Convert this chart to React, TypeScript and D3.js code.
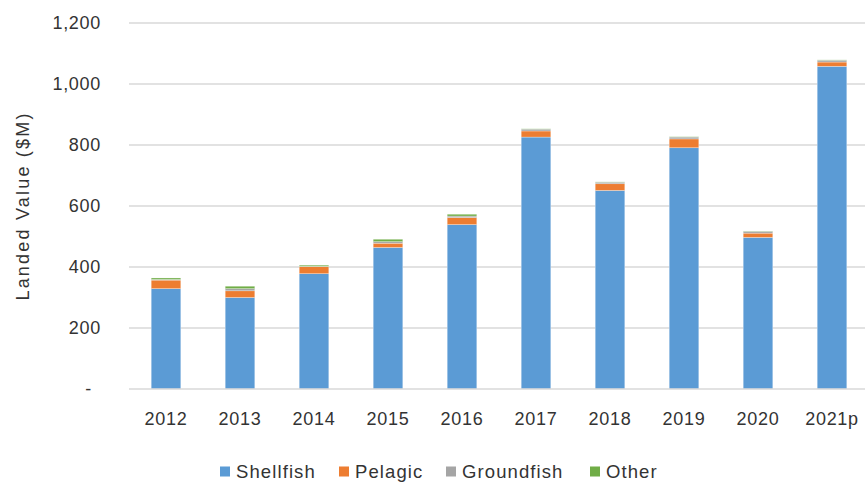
import React, { useEffect, useRef } from "react";
import * as d3 from "d3";

const years = ["2012", "2013", "2014", "2015", "2016", "2017", "2018", "2019", "2020", "2021p"];
const shellfish = [329, 300, 378, 464, 539, 826, 651, 791, 497, 1058];
const pelagic = [28, 22, 23, 14, 23, 20, 22, 29, 14, 14];
const groundfish = [2, 7, 1, 5, 5, 6, 5, 6, 6, 6];
const other = [5, 8, 4, 8, 6, 1, 1, 1, 1, 1];
const seriesNames = ["Shellfish", "Pelagic", "Groundfish", "Other"];
const seriesColors = ["#5B9BD5", "#ED7D31", "#A5A5A5", "#70AD47"];
const yTicks = [0, 200, 400, 600, 800, 1000, 1200];

const W = 865;
const H = 485;
const FONT = "'Liberation Sans', Arial, sans-serif";

export default function App() {
  const ref = useRef<SVGSVGElement>(null);

  useEffect(() => {
    const svg = d3.select(ref.current);
    svg.selectAll("*").remove();

    const left = 129, right = 869, top = 23, bottom = 389;
    const x = d3.scaleBand<string>().domain(years).range([left, right]).paddingInner(0.6).paddingOuter(0.3);
    const y = d3.scaleLinear().domain([0, 1200]).range([bottom, top]);

    const table = years.map((yr, i) => ({
      year: yr,
      Shellfish: shellfish[i],
      Pelagic: pelagic[i],
      Groundfish: groundfish[i],
      Other: other[i],
    }));
    const stack = d3.stack<any>().keys(seriesNames)(table);

    // gridlines
    svg.append("g")
      .selectAll("line")
      .data(yTicks.filter((t) => t > 0))
      .join("line")
      .attr("x1", left)
      .attr("x2", W)
      .attr("y1", (d) => y(d))
      .attr("y2", (d) => y(d))
      .attr("stroke", "#D9D9D9")
      .attr("stroke-width", 1.5);

    // bars
    svg.append("g")
      .selectAll("g")
      .data(stack)
      .join("g")
      .attr("fill", (_d, i) => seriesColors[i])
      .selectAll("rect")
      .data((d) => d)
      .join("rect")
      .attr("x", (d: any) => x(d.data.year)!)
      .attr("width", x.bandwidth())
      .attr("y", (d) => y(d[1]))
      .attr("height", (d) => Math.max(0, y(d[0]) - y(d[1])))
      .attr("stroke", "#ffffff")
      .attr("stroke-opacity", 0.5)
      .attr("stroke-width", 0.6);

    // baseline
    svg.append("line")
      .attr("x1", left)
      .attr("x2", W)
      .attr("y1", bottom)
      .attr("y2", bottom)
      .attr("stroke", "#D9D9D9")
      .attr("stroke-width", 1.5);

    const textColor = "#333333";

    // y tick labels
    svg.append("g")
      .selectAll("text")
      .data(yTicks)
      .join("text")
      .attr("x", (d) => (d === 0 ? 92 : 101))
      .attr("y", (d) => y(d))
      .attr("dy", "0.36em")
      .attr("text-anchor", "end")
      .attr("font-family", FONT)
      .attr("font-size", 18)
      .attr("letter-spacing", 0.7)
      .attr("fill", textColor)
      .text((d) => (d === 0 ? "-" : d3.format(",")(d)));

    // x labels
    svg.append("g")
      .selectAll("text")
      .data(years)
      .join("text")
      .attr("x", (d) => x(d)! + x.bandwidth() / 2)
      .attr("y", 425)
      .attr("text-anchor", "middle")
      .attr("font-family", FONT)
      .attr("font-size", 18)
      .attr("letter-spacing", 0.7)
      .attr("fill", textColor)
      .text((d) => d);

    // y title
    svg.append("text")
      .attr("transform", `translate(29,206) rotate(-90)`)
      .attr("text-anchor", "middle")
      .attr("font-family", FONT)
      .attr("font-size", 18)
      .attr("letter-spacing", 2.2)
      .attr("fill", textColor)
      .text("Landed Value ($M)");

    // legend
    const legendStarts = [220, 339, 446, 590];
    const lg = svg.append("g");
    seriesNames.forEach((name, i) => {
      const sx = legendStarts[i];
      lg.append("rect")
        .attr("x", sx)
        .attr("y", 466.5)
        .attr("width", 10)
        .attr("height", 10)
        .attr("fill", seriesColors[i]);
      lg.append("text")
        .attr("x", sx + 16)
        .attr("y", 478)
        .attr("font-family", FONT)
        .attr("font-size", 18.5)
        .attr("letter-spacing", 1.1)
        .attr("fill", textColor)
        .text(name);
    });
  }, []);

  return (
    <svg
      ref={ref}
      width={W}
      height={H}
      style={{ position: "absolute", left: 0, top: 0, background: "#fff" }}
    />
  );
}
